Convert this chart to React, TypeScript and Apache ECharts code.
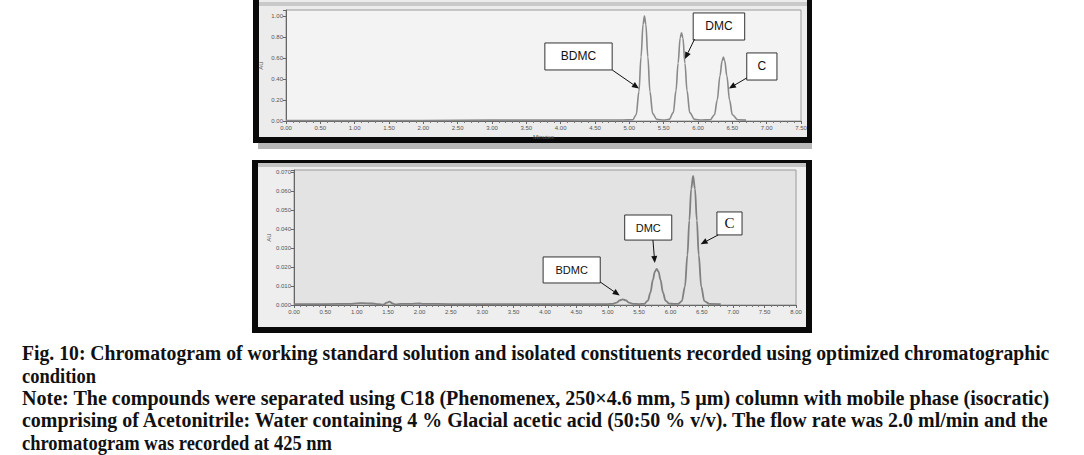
import React, { useEffect, useRef } from "react";
import * as echarts from "echarts";

// ---- Top chromatogram (working standard solution) ----
const topTimes = [0.0, 1.0, 2.0, 3.0, 4.0, 4.9, 5.05, 5.1, 5.14, 5.17, 5.2, 5.22, 5.24, 5.27, 5.3, 5.34, 5.4, 5.5,
  5.58, 5.64, 5.68, 5.71, 5.74, 5.76, 5.78, 5.81, 5.84, 5.88, 5.95, 6.05,
  6.18, 6.24, 6.28, 6.32, 6.35, 6.37, 6.39, 6.42, 6.46, 6.5, 6.58, 6.7];
const topValues = [0.005, 0.005, 0.005, 0.008, 0.008, 0.01, 0.012, 0.06, 0.28, 0.61, 0.92, 1.0, 0.92, 0.61, 0.28, 0.07, 0.015, 0.01,
  0.015, 0.08, 0.29, 0.55, 0.79, 0.84, 0.79, 0.55, 0.29, 0.08, 0.015, 0.01,
  0.012, 0.06, 0.2, 0.43, 0.57, 0.61, 0.57, 0.43, 0.2, 0.06, 0.012, 0.008];

// ---- Bottom chromatogram (isolated constituents) ----
const bottomTimes = [0.0, 0.5, 0.9, 1.0, 1.1, 1.25, 1.35, 1.42, 1.48, 1.52, 1.57, 1.62, 1.7, 1.85, 2.0, 2.05, 2.5, 3.0, 4.0, 5.0,
  5.08, 5.14, 5.19, 5.24, 5.29, 5.34, 5.4, 5.5,
  5.58, 5.64, 5.68, 5.72, 5.75, 5.78, 5.81, 5.84, 5.88, 5.92, 5.98, 6.05,
  6.12, 6.18, 6.23, 6.27, 6.3, 6.33, 6.36, 6.39, 6.42, 6.45, 6.49, 6.54, 6.62, 6.8];
const bottomValues = [0.0005, 0.0005, 0.0006, 0.0009, 0.001, 0.0008, 0.0004, 0.0002, 0.0012, 0.0018, 0.0008, 0.0003, 0.0006, 0.0006, 0.0008, 0.0006, 0.0005, 0.0005, 0.0005, 0.0005,
  0.0006, 0.0012, 0.0024, 0.003, 0.0024, 0.0012, 0.0006, 0.0005,
  0.0006, 0.0023, 0.0066, 0.0133, 0.0175, 0.019, 0.0175, 0.0133, 0.0066, 0.0023, 0.0007, 0.0006,
  0.0006, 0.002, 0.0096, 0.0264, 0.0446, 0.0612, 0.068, 0.0612, 0.0446, 0.0264, 0.0096, 0.002, 0.0006, 0.0005];

// ---- Peak annotations (data coordinates) ----
const peakNames = ["BDMC", "DMC", "C"];
// box: [t1, v1, t2, v2]
const topBoxes = [[3.77, 0.743, 4.75, 0.486], [5.93, 1.029, 6.68, 0.771], [6.71, 0.648, 7.15, 0.39]];
const topArrowFrom = [[4.75, 0.486], [5.95, 0.78], [6.71, 0.41]];
const topArrowTo = [[5.14, 0.31], [5.81, 0.59], [6.45, 0.31]];
const bottomBoxes = [[3.97, 0.0253, 4.88, 0.0116], [5.27, 0.0474, 6.02, 0.0342], [6.74, 0.049, 7.14, 0.0369]];
const bottomArrowFrom = [[4.88, 0.0121], [5.72, 0.0342], [6.76, 0.0369]];
const bottomArrowTo = [[5.19, 0.005], [5.75, 0.0221], [6.48, 0.032]];

const captionLines = [
  "Fig. 10: Chromatogram of working standard solution and isolated constituents recorded using optimized chromatographic",
  "condition",
  "Note: The compounds were separated using C18 (Phenomenex, 250×4.6 mm, 5 µm) column with mobile phase (isocratic)",
  "comprising of Acetonitrile: Water containing 4 % Glacial acetic acid (50:50 % v/v). The flow rate was 2.0 ml/min and the",
  "chromatogram was recorded at 425 nm",
];
const captionJustified = [true, false, true, true, false];

const zip = (a: number[], b: number[]) => a.map((t, i) => [t, b[i]]);

export default function App() {
  const ref = useRef<HTMLDivElement>(null);
  useEffect(() => {
    if (!ref.current) return;
    const chart = echarts.init(ref.current, undefined, { renderer: "svg" });
    const lbl = { fontSize: 6, color: "#555", fontFamily: "Liberation Sans" };
    const xAxisBase = (gi: number, max: number) => ({
      gridIndex: gi, type: "value" as const, min: 0, max, interval: 0.5,
      axisLine: { lineStyle: { color: "#666", width: 1 } },
      axisTick: { length: 3, lineStyle: { color: "#666" } },
      minorTick: { show: true, splitNumber: 5, length: 2, lineStyle: { color: "#777" } },
      splitLine: { show: false },
      axisLabel: { ...lbl, margin: 4, formatter: (v: number) => v.toFixed(2) },
    });
    const yAxisBase = (gi: number, max: number, interval: number, dec: number, gap: number) => ({
      gridIndex: gi, type: "value" as const, min: 0, max, interval,
      axisLine: { show: true, lineStyle: { color: "#666" } },
      axisTick: { show: true, length: 3, lineStyle: { color: "#666" } },
      splitLine: { show: false },
      axisLabel: {
        ...lbl, margin: 3,
        formatter: (v: number) => (Math.abs(v / interval - Math.round(v / interval)) < 1e-6 ? v.toFixed(dec) : ""),
      },
      name: "AU", nameLocation: "middle" as const, nameGap: gap,
      nameTextStyle: { fontSize: 6, color: "#555" },
    });
    chart.setOption({
      animation: false,
      backgroundColor: "#ffffff",
      grid: [
        { left: 286, top: 10, width: 515, height: 111, show: true, backgroundColor: "#f3f3f3", borderColor: "#9a9a9a", borderWidth: 1 },
        { left: 294, top: 170, width: 502, height: 135, show: true, backgroundColor: "#e3e3e3", borderColor: "#9a9a9a", borderWidth: 1 },
      ],
      xAxis: [
        { ...xAxisBase(0, 7.5), name: "Minutes", nameLocation: "middle", nameGap: 13, nameTextStyle: { fontSize: 6, color: "#555" } },
        xAxisBase(1, 8),
      ],
      yAxis: [yAxisBase(0, 1.057, 0.2, 2, 22), yAxisBase(1, 0.0711, 0.01, 3, 22)],
      series: [
        { type: "line", xAxisIndex: 0, yAxisIndex: 0, data: zip(topTimes, topValues), showSymbol: false, smooth: 0.35, smoothMonotone: "x",
          lineStyle: { color: "#8a8a8a", width: 1.6 }, z: 3 },
        { type: "line", xAxisIndex: 1, yAxisIndex: 1, data: zip(bottomTimes, bottomValues), showSymbol: false, smooth: 0.35, smoothMonotone: "x",
          lineStyle: { color: "#808080", width: 1.8 }, z: 3 },
      ],
    });

    const graphics: any[] = [];
    // panel frames
    graphics.push({ type: "rect", z: -10, shape: { x: 253, y: 0, width: 559, height: 143 }, style: { fill: "#0a0a0a" } });
    graphics.push({ type: "rect", z: -10, shape: { x: 258, y: 143, width: 554, height: 6 }, style: { fill: "#b8b8b8" } });
    graphics.push({ type: "rect", z: -9, shape: { x: 259, y: 0, width: 548, height: 137 }, style: { fill: "#ececec" } });
    graphics.push({ type: "rect", z: -9, shape: { x: 259, y: 2, width: 548, height: 4 }, style: { fill: "#c9c9c9" } });
    graphics.push({ type: "rect", z: -10, shape: { x: 252, y: 160, width: 560, height: 173 }, style: { fill: "#0a0a0a" } });
    graphics.push({ type: "rect", z: -9, shape: { x: 258, y: 163, width: 548, height: 164 }, style: { fill: "#eeeeee" } });
    graphics.push({ type: "rect", z: -9, shape: { x: 258, y: 163, width: 548, height: 4 }, style: { fill: "#c4c4c4" } });

    const addAnn = (gi: number, boxes: number[][], from: number[][], to: number[][], fonts: string[]) => {
      boxes.forEach((b, i) => {
        const p1 = chart.convertToPixel({ gridIndex: gi }, [b[0], b[1]]) as number[];
        const p2 = chart.convertToPixel({ gridIndex: gi }, [b[2], b[3]]) as number[];
        graphics.push({ type: "rect", z: 10, shape: { x: p1[0], y: p1[1], width: p2[0] - p1[0], height: p2[1] - p1[1] },
          style: { fill: "#ffffff", stroke: "#333333", lineWidth: 1 } });
        graphics.push({ type: "text", z: 11, x: (p1[0] + p2[0]) / 2, y: (p1[1] + p2[1]) / 2,
          style: { text: peakNames[i], font: fonts[i], fill: "#111", align: "center", verticalAlign: "middle" } });
        const a = chart.convertToPixel({ gridIndex: gi }, from[i]) as number[];
        const t = chart.convertToPixel({ gridIndex: gi }, to[i]) as number[];
        const dx = t[0] - a[0], dy = t[1] - a[1];
        const len = Math.hypot(dx, dy);
        const ux = dx / len, uy = dy / len;
        const hl = 7, hw = 3;
        const bx = t[0] - ux * hl, by = t[1] - uy * hl;
        graphics.push({ type: "line", z: 10, shape: { x1: a[0], y1: a[1], x2: bx, y2: by }, style: { stroke: "#111", lineWidth: 1 } });
        graphics.push({ type: "polygon", z: 10, shape: { points: [[t[0], t[1]], [bx - uy * hw, by + ux * hw], [bx + uy * hw, by - ux * hw]] },
          style: { fill: "#111" } });
      });
    };
    addAnn(0, topBoxes, topArrowFrom, topArrowTo, ["12px Liberation Sans", "12px Liberation Sans", "12px Liberation Sans"]);
    addAnn(1, bottomBoxes, bottomArrowFrom, bottomArrowTo, ["11px Liberation Sans", "11px Liberation Sans", "15px Liberation Serif"]);

    // caption
    const fs = 20;
    const font = `bold ${fs}px "Liberation Serif"`;
    const ctx = document.createElement("canvas").getContext("2d")!;
    ctx.font = font;
    const targetW = 1028;
    const scales = captionLines.map((l) => targetW / ctx.measureText(l).width);
    const justifiedScales = scales.filter((_, i) => captionJustified[i]);
    const avg = justifiedScales.reduce((s, v) => s + v, 0) / justifiedScales.length;
    const lineY = [353, 376, 398, 420, 443];
    captionLines.forEach((l, i) => {
      graphics.push({ type: "text", x: 22, y: lineY[i], scaleX: captionJustified[i] ? scales[i] : avg * 0.93,
        style: { text: l, font, fill: "#111", align: "left", verticalAlign: "middle", x: 0, y: 0 } });
    });

    chart.setOption({ graphic: graphics });
    return () => chart.dispose();
  }, []);
  return (
    <div ref={ref} style={{ position: "fixed", left: 0, top: 0, width: 1084, height: 455, background: "#fff" }} />
  );
}
